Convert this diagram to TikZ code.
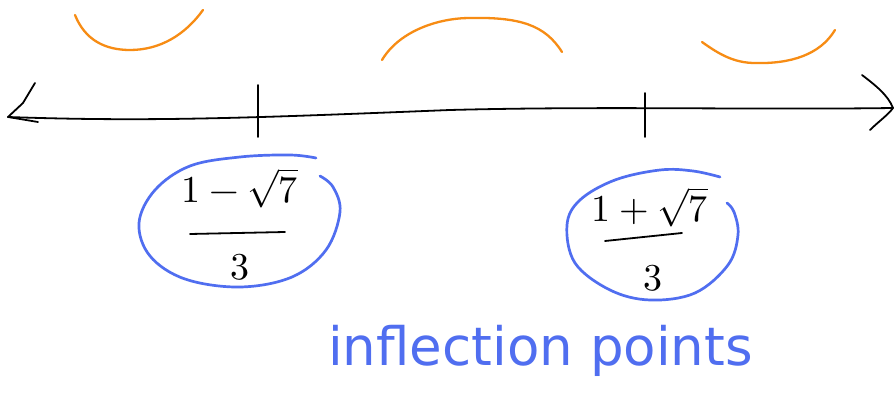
\documentclass[tikz,border=0pt]{standalone}
\usepackage{fontspec}
\usepackage{unicode-math}
\setmathfont{Latin Modern Math}
\setsansfont{DejaVu Sans}
\definecolor{sketchorange}{RGB}{247,140,20}
\definecolor{sketchblue}{RGB}{80,110,240}
\tikzset{
  axisline/.style={line width=1.8pt, black, line cap=round, line join=round},
  arcstroke/.style={line width=2.3pt, sketchorange, line cap=round},
  loopstroke/.style={line width=2.7pt, sketchblue, line cap=round},
  fracnum/.style={font=\fontsize{38}{44}\selectfont, text=black, inner sep=0pt},
  barline/.style={line width=1.8pt, black, line cap=round},
  labeltext/.style={font=\sffamily\fontsize{53}{60}\selectfont, text=sketchblue, inner sep=0pt}
}
\begin{document}
\begin{tikzpicture}[x=1pt,y=-1pt]
\useasboundingbox (0,0) rectangle (895,395);
\fill[white] (0,0) rectangle (895,395);
% axis
\coordinate (L) at (8,117);
\coordinate (R) at (893,108);
\draw[axisline] (L) .. controls (150,122) and (250,118) .. (450,110) .. controls (600,106) and (750,110) .. (R);
\draw[axisline] (35,83) -- (23,103) -- (L) -- (38,122);
\draw[axisline] (862,75) .. controls (875,85) and (888,95) .. (R) .. controls (888,115) and (878,122) .. (870,130);
% ticks
\coordinate (t1a) at (258,85); \coordinate (t1b) at (258,137);
\coordinate (t2a) at (645,93); \coordinate (t2b) at (645,137);
\draw[axisline] (t1a) -- (t1b);
\draw[axisline] (t2a) -- (t2b);
% orange concavity arcs
\draw[arcstroke] (75,15) .. controls (85,40) and (105,50) .. (130,50) .. controls (160,50) and (185,35) .. (203,10);
\draw[arcstroke] (382,60) .. controls (400,30) and (440,18) .. (470,18) .. controls (520,17) and (545,25) .. (562,52);
\draw[arcstroke] (702,42) .. controls (720,55) and (735,63) .. (755,63) .. controls (790,64) and (820,55) .. (835,30);
% blue loops
\draw[loopstroke] plot[smooth, tension=0.6] coordinates {(316,158) (290,155) (240,157) (190,166) (155,190) (139,223) (150,256) (185,279) (240,287) (292,277) (326,250) (340,212) (333,187) (320,176)};
\draw[loopstroke] plot[smooth, tension=0.6] coordinates {(720,177) (693,171) (660,170) (615,180) (580,200) (567,225) (575,263) (610,290) (650,300) (695,293) (728,265) (738,235) (734,212) (727,203)};
% fractions
\node[fracnum] (n1) at (240,188) {$1-\sqrt{7}$};
\coordinate (b1a) at (190,234); \coordinate (b1b) at (285,232);
\draw[barline] (b1a) -- (b1b);
\node[fracnum] (d1) at (240,267) {$3$};
\node[fracnum] (n2) at (650,207) {$1+\sqrt{7}$};
\coordinate (b2a) at (605,241); \coordinate (b2b) at (682,233);
\draw[barline] (b2a) -- (b2b);
\node[fracnum] (d2) at (653,278) {$3$};
% label
\node[labeltext, anchor=base west] (lab) at (328,366) {inflection points};
\end{tikzpicture}
\end{document}
